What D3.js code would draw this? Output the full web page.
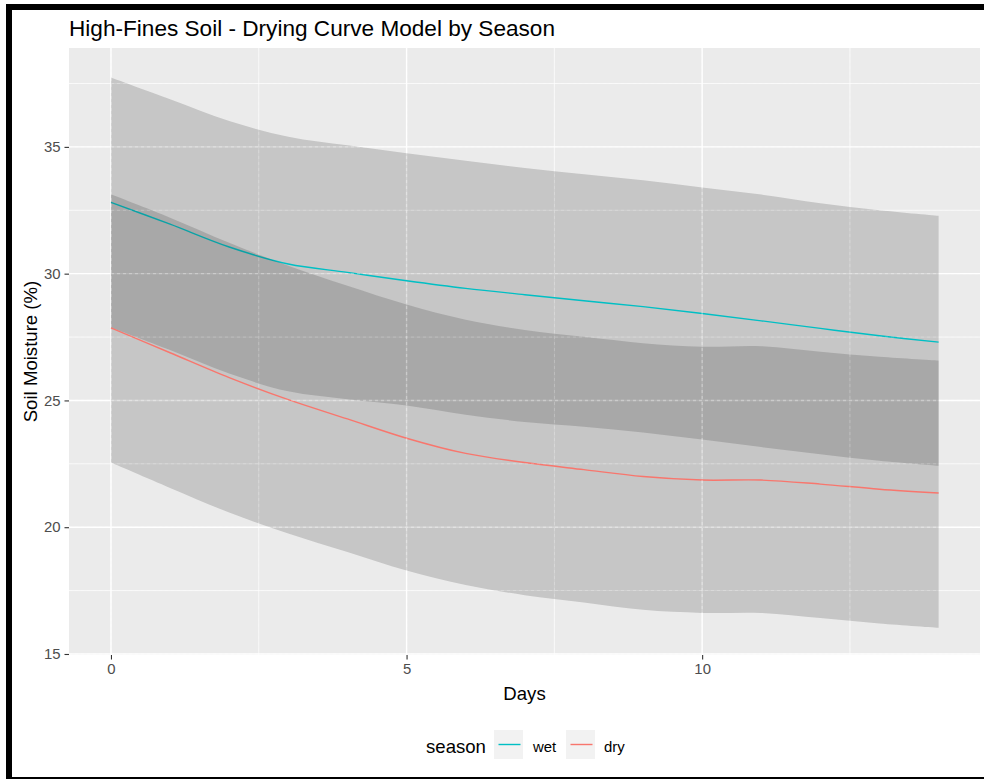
<!DOCTYPE html>
<html>
<head>
<meta charset="utf-8">
<script src="https://cdn.jsdelivr.net/npm/d3@7"></script>
<style>
  html, body { margin: 0; padding: 0; background: #fff; }
  svg { display: block; font-family: "Liberation Sans", Arial, sans-serif; }
</style>
</head>
<body>
<svg id="chart" width="984" height="779"></svg>
<script>
// ---- data ----
const days = [0,1,2,3,4,5,6,7,8,9,10,11,12,13,14];
const wetFit   = [32.81,31.95,31.05,30.38,30.05,29.72,29.42,29.17,28.93,28.70,28.43,28.14,27.84,27.55,27.30];
const wetUpper = [37.74,36.88,36.02,35.40,35.06,34.75,34.45,34.17,33.92,33.68,33.40,33.12,32.78,32.50,32.28];
const wetLower = [27.88,26.99,26.06,25.36,25.05,24.80,24.44,24.15,23.96,23.74,23.46,23.16,22.88,22.62,22.42];
const dryFit   = [27.86,26.88,25.90,25.03,24.27,23.51,22.91,22.55,22.27,22.00,21.86,21.86,21.70,21.50,21.35];
const dryUpper = [33.13,32.21,31.22,30.31,29.52,28.78,28.18,27.78,27.51,27.26,27.12,27.14,26.92,26.72,26.57];
const dryLower = [22.55,21.55,20.58,19.75,19.02,18.29,17.72,17.32,17.03,16.74,16.62,16.62,16.42,16.20,16.03];
const seasons = ["wet", "dry"];
const seasonColors = ["#00BFC4", "#F8766D"];
const xTicks = [0, 5, 10];
const xMinor = [2.5, 7.5, 12.5];
const yTicks = [15, 20, 25, 30, 35];
const yMinor = [17.5, 22.5, 27.5, 32.5, 37.5];
const titleText = "High-Fines Soil - Drying Curve Model by Season";
const xLabel = "Days";
const yLabel = "Soil Moisture (%)";
const legendTitle = "season";

// ---- layout ----
const P = { left: 69, right: 980, top: 48, bottom: 655 };
const svg = d3.select("#chart");

// frame
svg.append("rect").attr("x", 6).attr("y", 4).attr("width", 978).attr("height", 6).attr("fill", "#000");
svg.append("rect").attr("x", 6).attr("y", 4).attr("width", 6).attr("height", 775).attr("fill", "#000");
svg.append("rect").attr("x", 6).attr("y", 777).attr("width", 978).attr("height", 2).attr("fill", "#000");

const x = d3.scaleLinear().domain([-0.71, 14.70]).range([P.left, P.right]);
const y = d3.scaleLinear().domain([14.96, 38.9]).range([P.bottom, P.top]);

// panel
svg.append("rect").attr("x", P.left).attr("y", P.top)
  .attr("width", P.right - P.left).attr("height", P.bottom - P.top).attr("fill", "#EBEBEB");

function grid(g, dash, op) {
  yMinor.forEach(v => g.append("line").attr("x1", P.left).attr("x2", P.right).attr("y1", y(v)).attr("y2", y(v))
    .attr("stroke", "#fff").attr("stroke-width", 0.7).attr("stroke-dasharray", dash).attr("opacity", op));
  xMinor.forEach(v => g.append("line").attr("y1", P.top).attr("y2", P.bottom).attr("x1", x(v)).attr("x2", x(v))
    .attr("stroke", "#fff").attr("stroke-width", 0.7).attr("stroke-dasharray", dash).attr("opacity", op));
  yTicks.forEach(v => g.append("line").attr("x1", P.left).attr("x2", P.right).attr("y1", y(v)).attr("y2", y(v))
    .attr("stroke", "#fff").attr("stroke-width", 1.4).attr("stroke-dasharray", dash).attr("opacity", op));
  xTicks.forEach(v => g.append("line").attr("y1", P.top).attr("y2", P.bottom).attr("x1", x(v)).attr("x2", x(v))
    .attr("stroke", "#fff").attr("stroke-width", 1.4).attr("stroke-dasharray", dash).attr("opacity", op));
}
grid(svg.append("g"), null, 1);

const curve = d3.curveCatmullRom.alpha(0.5);
const area = d3.area().x(d => x(d.d)).y0(d => y(d.lo)).y1(d => y(d.hi)).curve(curve);
const line = d3.line().x(d => x(d.d)).y(d => y(d.v)).curve(curve);

const series = [
  { name: "wet", fit: wetFit, lo: wetLower, hi: wetUpper, color: seasonColors[0] },
  { name: "dry", fit: dryFit, lo: dryLower, hi: dryUpper, color: seasonColors[1] }
];
const marks = svg.append("g");
series.forEach(s => {
  const rib = days.map((d, i) => ({ d, lo: s.lo[i], hi: s.hi[i] }));
  marks.append("path").attr("d", area(rib)).attr("fill", "#333").attr("fill-opacity", 0.2);
  const pts = days.map((d, i) => ({ d, v: s.fit[i] }));
  marks.append("path").attr("d", line(pts)).attr("fill", "none").attr("stroke", s.color).attr("stroke-width", 1.4);
});

// faint dashed grid showing through ribbons
grid(svg.append("g"), "3,3", 0.3);

// axes
const axCol = "#4D4D4D";
const xAxis = svg.append("g").attr("transform", `translate(0,${P.bottom})`)
  .call(d3.axisBottom(x).tickValues(xTicks).tickSize(4.5).tickPadding(4).tickFormat(d3.format("d")));
const yAxis = svg.append("g").attr("transform", `translate(${P.left},0)`)
  .call(d3.axisLeft(y).tickValues(yTicks).tickSize(4.5).tickPadding(4).tickFormat(d3.format("d")));
[xAxis, yAxis].forEach(a => {
  a.select(".domain").remove();
  a.selectAll(".tick line").attr("stroke", "#333").attr("stroke-width", 1.1);
  a.selectAll(".tick text").attr("fill", axCol).attr("font-size", "14.9px")
    .attr("font-family", "'Liberation Sans', Arial, sans-serif");
});

// titles
svg.append("text").attr("x", P.left).attr("y", 35.5).text(titleText)
  .attr("font-size", "22.6px").attr("fill", "#000");
svg.append("text").attr("x", (P.left + P.right) / 2).attr("y", 700).attr("text-anchor", "middle")
  .text(xLabel).attr("font-size", "18.6px").attr("fill", "#000");
svg.append("text").attr("transform", `translate(37,${(P.top + P.bottom) / 2}) rotate(-90)`)
  .attr("text-anchor", "middle").text(yLabel).attr("font-size", "18.6px").attr("fill", "#000");

// legend
const lg = svg.append("g");
lg.append("text").attr("x", 426).attr("y", 752.5).text(legendTitle).attr("font-size", "18.6px").attr("fill", "#000");
const keyX = [494, 566];
const labX = [533, 604];
seasons.forEach((s, i) => {
  lg.append("rect").attr("x", keyX[i]).attr("y", 730).attr("width", 29).attr("height", 29).attr("fill", "#F2F2F2");
  lg.append("line").attr("x1", keyX[i] + 4.5).attr("x2", keyX[i] + 26.5).attr("y1", 744.5).attr("y2", 744.5)
    .attr("stroke", seasonColors[i]).attr("stroke-width", 1.4);
  lg.append("text").attr("x", labX[i]).attr("y", 751.5).text(s).attr("font-size", "14.9px").attr("fill", "#000");
});
</script>
</body>
</html>
